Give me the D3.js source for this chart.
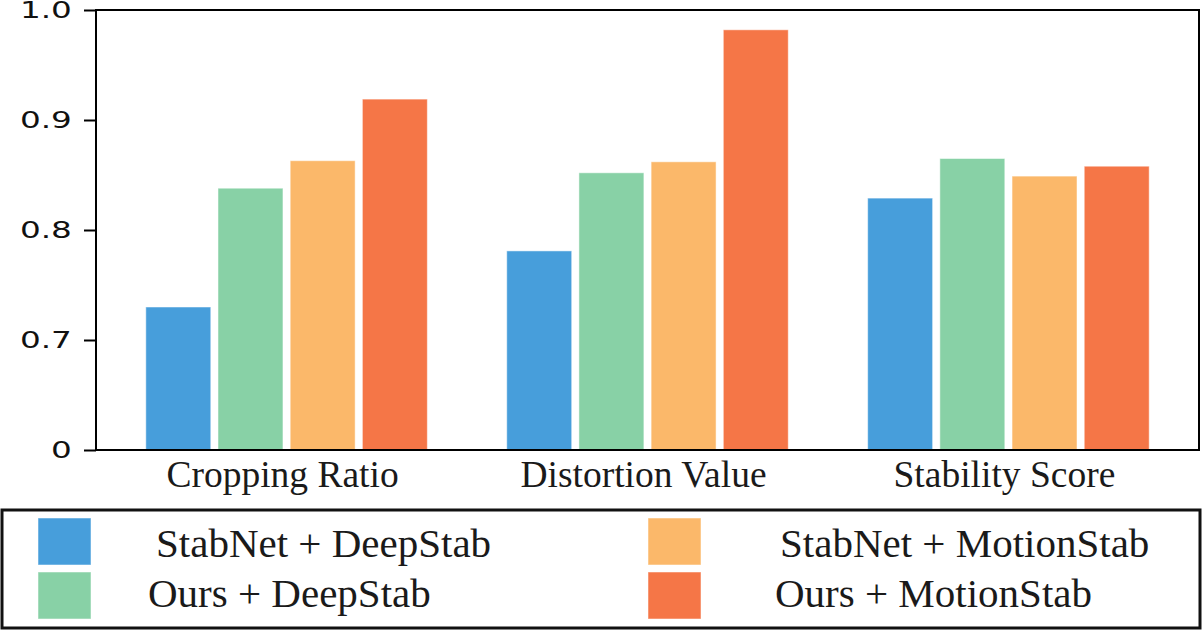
<!DOCTYPE html>
<html>
<head>
<meta charset="UTF-8">
<script src="https://cdn.jsdelivr.net/npm/d3@7"></script>
<style>
body { margin: 0; background: #fff; }
</style>
</head>
<body>
<script>

// data
var categories = ["Cropping Ratio", "Distortion Value", "Stability Score"];
var series = ["StabNet + DeepStab", "Ours + DeepStab", "StabNet + MotionStab", "Ours + MotionStab"];
var colors = ["#479edb", "#88d1a6", "#fbb86a", "#f57647"];
var values = [
  [0.730, 0.781, 0.829],   // StabNet + DeepStab
  [0.838, 0.852, 0.865],   // Ours + DeepStab
  [0.863, 0.862, 0.849],   // StabNet + MotionStab
  [0.919, 0.982, 0.858]    // Ours + MotionStab
];
var tickValues = [0.6, 0.7, 0.8, 0.9, 1.0];
var tickLabels = ["0", "0.7", "0.8", "0.9", "1.0"];

var width = 1204, height = 631;
var plotLeft = 96, plotRight = 1199, plotTop = 10, plotBottom = 450;

var svg = d3.select("body").append("svg")
    .attr("width", width)
    .attr("height", height);

var y = d3.scaleLinear().domain([0.6, 1.0]).range([plotBottom, plotTop]);

var x0 = d3.scaleBand()
    .domain(categories)
    .range([plotLeft, plotRight])
    .paddingInner(0.2)
    .paddingOuter(0.128);

var x1 = d3.scaleBand()
    .domain(series)
    .range([0, x0.bandwidth()])
    .paddingInner(0.1)
    .paddingOuter(0.05);

// bars
var groups = svg.append("g").selectAll("g")
    .data(categories)
    .enter().append("g")
    .attr("transform", function(d) { return "translate(" + x0(d) + ",0)"; });

groups.selectAll("rect")
    .data(function(d, ci) {
        return series.map(function(s, si) { return {s: s, v: values[si][ci], i: si}; });
    })
    .enter().append("rect")
    .attr("x", function(d) { return x1(d.s); })
    .attr("y", function(d) { return y(d.v); })
    .attr("width", x1.bandwidth())
    .attr("height", function(d) { return plotBottom - y(d.v); })
    .attr("fill", function(d) { return colors[d.i]; })
    .attr("stroke", "#fff")
    .attr("stroke-opacity", 0.5)
    .attr("stroke-width", 1);

// frame
svg.append("rect")
    .attr("x", plotLeft)
    .attr("y", plotTop)
    .attr("width", plotRight - plotLeft)
    .attr("height", plotBottom - plotTop)
    .attr("fill", "none")
    .attr("stroke", "#000")
    .attr("stroke-width", 2);

// y axis
var yAxis = d3.axisLeft(y)
    .tickValues(tickValues)
    .tickSize(12)
    .tickPadding(5)
    .tickFormat(function(d, i) { return tickLabels[i]; });

var ya = svg.append("g")
    .attr("transform", "translate(" + plotLeft + ",0)")
    .call(yAxis);
ya.select(".domain").remove();
ya.selectAll("line").attr("stroke", "#000").attr("stroke-width", 2);
ya.selectAll("text")
    .attr("font-family", "DejaVu Sans, sans-serif")
    .attr("font-size", 23)
    .attr("fill", "#111")
    .attr("transform", "scale(1.42,1)");

// category labels
svg.append("g").selectAll("text")
    .data(categories)
    .enter().append("text")
    .attr("x", function(d) { return x0(d) + x0.bandwidth() / 2; })
    .attr("dx", -4)
    .attr("y", 487)
    .attr("text-anchor", "middle")
    .attr("font-family", "Liberation Serif, Times New Roman, serif")
    .attr("font-size", 37.5)
    .attr("fill", "#1a1a1a")
    .text(function(d) { return d; });

// legend
svg.append("rect")
    .attr("x", 2)
    .attr("y", 510)
    .attr("width", 1198)
    .attr("height", 118)
    .attr("fill", "#fff")
    .attr("stroke", "#111")
    .attr("stroke-width", 3);

var legCols = [{sq: 38, tx: [156, 148]}, {sq: 648, tx: [780, 775]}];
var legRows = [{sq: 518, tx: 557}, {sq: 572, tx: 607}];
var legOrder = [[0, 1], [2, 3]];  // column -> series indices

var leg = svg.append("g");
legOrder.forEach(function(col, c) {
    col.forEach(function(si, r) {
        leg.append("rect")
            .attr("x", legCols[c].sq)
            .attr("y", legRows[r].sq)
            .attr("width", 53)
            .attr("height", 47)
            .attr("fill", colors[si])
            .attr("stroke", "#fff")
            .attr("stroke-opacity", 0.5)
            .attr("stroke-width", 1);
        leg.append("text")
            .attr("x", legCols[c].tx[r])
            .attr("y", legRows[r].tx)
            .attr("font-family", "Liberation Serif, Times New Roman, serif")
            .attr("font-size", 41)
            .attr("fill", "#1a1a1a")
            .text(series[si]);
    });
});

</script>
</body>
</html>
